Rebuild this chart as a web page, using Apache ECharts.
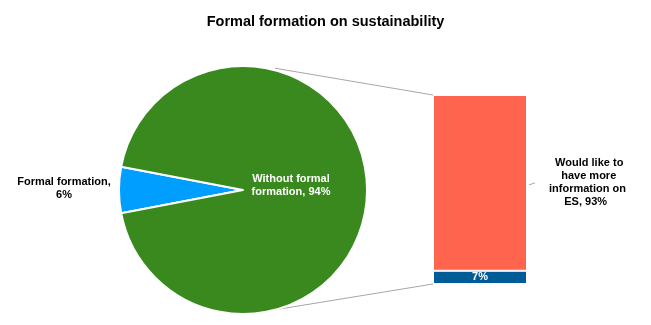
<!DOCTYPE html>
<html><head><meta charset="utf-8">
<script src="https://cdn.jsdelivr.net/npm/echarts@6/dist/echarts.min.js"></script>
<style>html,body{margin:0;padding:0;background:#fff}#c{width:651px;height:325px}</style>
</head><body><div id="c"></div>
<script>
const title = 'Formal formation on sustainability';
const pieNames = ['Formal formation', 'Without formal formation'];
const pieValues = [6, 94];
const barNames = ['Would like to have more information on ES', 'Other'];
const barValues = [93, 7];

(function () {
const chart = echarts.init(document.getElementById('c'), null, {renderer: 'canvas'});
const cx = 243, cy = 190, R = 124;
const font = 'Liberation Sans, Arial, sans-serif';
const startAngle = 180 + pieValues[0] / 100 * 360 / 2;

chart.setOption({
  animation: false,
  title: {text: title, left: 'center', top: 9,
    textStyle: {fontFamily: font, fontSize: 14.5, fontWeight: 'bold', color: '#000'}},
  grid: {left: 433, top: 95, width: 94, height: 189},
  xAxis: {type: 'category', data: ['bar'], show: false},
  yAxis: {type: 'value', min: 0, max: 100, show: false},
  series: [
    {
      type: 'pie', center: [cx, cy], radius: R, startAngle: startAngle, clockwise: true,
      itemStyle: {borderColor: '#fff', borderWidth: 2},
      data: [
        {name: pieNames[0], value: pieValues[0], itemStyle: {color: '#009FFF'},
          label: {position: 'outside', color: '#000', overflow: 'none',
            formatter: '{a|Formal formation,}\n{a|{c}%}',
            rich: {a: {width: 92, align: 'center', fontFamily: font, fontSize: 11,
              fontWeight: 'bold', lineHeight: 13, color: '#000'}}},
          labelLine: {show: false, length: 2, length2: 2}},
        {name: pieNames[1], value: pieValues[1], itemStyle: {color: '#3A891E'},
          label: {position: 'inside', color: '#fff', align: 'center',
            formatter: 'Without formal\nformation, {c}%'}}
      ],
      label: {fontFamily: font, fontSize: 11, fontWeight: 'bold', lineHeight: 13},
      labelLayout: function (p) { return p.dataIndex === 1 ? {dx: -8.5, dy: -2.5} : {dy: -1}; },
      emphasis: {disabled: true}
    },
    {
      type: 'bar', stack: 's', barWidth: '100%', data: [barValues[1]],
      itemStyle: {color: '#005C97', borderColor: '#fff', borderWidth: 1},
      label: {show: true, position: 'inside', color: '#fff', fontFamily: font,
        fontSize: 11, fontWeight: 'bold', formatter: '{c}%'}
    },
    {
      type: 'bar', stack: 's', barWidth: '100%', data: [barValues[0]],
      itemStyle: {color: '#FF644E', borderColor: '#fff', borderWidth: 1},
      label: {show: true, position: 'right', distance: 22, color: '#000', fontFamily: font,
        fontSize: 11, fontWeight: 'bold', lineHeight: 13, align: 'left',
        formatter: '  Would like to\n    have more\ninformation on\n     ES, {c}%'}
    }
  ]
});

const pTop = chart.convertToPixel({gridIndex: 0}, ['bar', 100]);
const pBot = chart.convertToPixel({gridIndex: 0}, ['bar', 0]);
const a = 75 * Math.PI / 180;
const px = cx + R * Math.cos(a), pyT = cy - R * Math.sin(a), pyB = cy + R * Math.sin(a);
const barLeft = 433;
const midRed = chart.convertToPixel({gridIndex: 0}, ['bar', barValues[1] + barValues[0] / 2]);
chart.setOption({
  graphic: [
    {type: 'line', shape: {x1: px, y1: pyT - 2, x2: barLeft, y2: pTop[1]}, style: {stroke: '#A6A6A6', lineWidth: 1}, z: 0},
    {type: 'line', shape: {x1: px, y1: pyB, x2: barLeft, y2: pBot[1]}, style: {stroke: '#A6A6A6', lineWidth: 1}, z: 0},
    {type: 'polyline', shape: {points: [[barLeft + 94 + 2, midRed[1] + 2], [barLeft + 94 + 8, midRed[1]]]}, style: {stroke: '#A6A6A6', lineWidth: 1, fill: null}}
  ]
});
})();
</script></body></html>
